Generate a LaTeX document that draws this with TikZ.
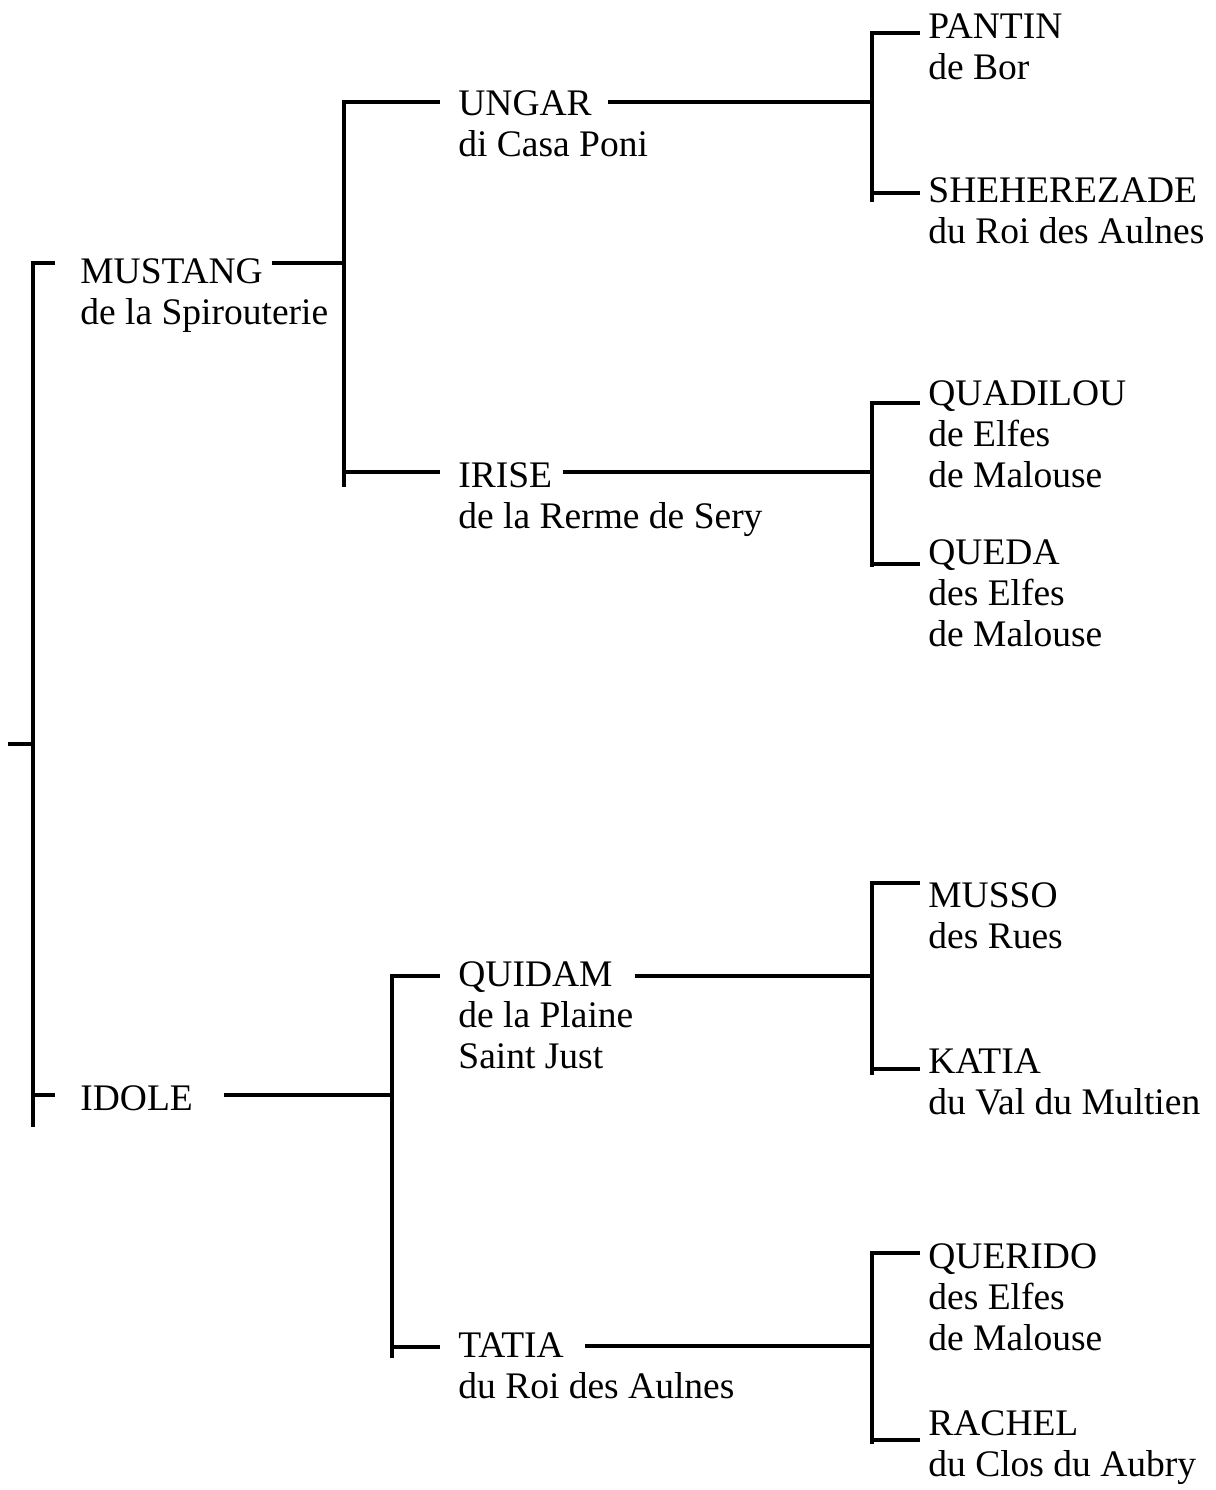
\documentclass[tikz,border=0pt]{standalone}
\usepackage{fontspec}
\setmainfont{Liberation Serif}
\newcommand{\horse}[1]{\vtop{\halign{##\hfil\cr#1\crcr}}} % stacked lines, baseline = first line
\tikzset{
  pedline/.style={line width=1.6pt},
  horsename/.style={anchor=base west,inner sep=0pt,font=\fontsize{18.75}{20.5}\selectfont},
}

\begin{document}
\begin{tikzpicture}[x=0.5pt,y=-0.5pt]
  \fill[white] (0,0) rectangle (1216,1490); % page
  \foreach \n/\x/\t/\m/\b/\e/\w in {a/33/263/744/1095/1127/55, % loop over brackets
      b/344/102/263/472/487/440,c/392/976/1095/1347/1358/440,
      d/872/33/102/193/202/920,e/872/403/472/564/567/920,
      f/872/883/976/1069/1075/920,g/872/1253/1346/1440/1444/920}{
    \coordinate (\n mid) at (\x,\m);
    \draw[pedline] (\w,\t) -- (\x,\t) -- (\x,\e) (\x,\b) -- (\w,\b); % bar and ticks
  }
  \foreach \n/\x/\y/\s in {mustang/80/283/{MUSTANG\cr de la Spirouterie},idole/80/1110/IDOLE,
      ungar/458/115/{UNGAR\cr di Casa Poni},irise/458/487/{IRISE\cr de la Rerme de Sery},
      quidam/458/986/{QUIDAM\cr de la Plaine\cr Saint Just},tatia/458/1357/{TATIA\cr du Roi des Aulnes},
      pantin/928/38/{PANTIN\cr de Bor},sheherezade/928/202/{SHEHEREZADE\cr du Roi des Aulnes},
      quadilou/928/405/{QUADILOU\cr de Elfes\cr de Malouse},queda/928/564/{QUEDA\cr des Elfes\cr de Malouse},
      musso/928/907/{MUSSO\cr des Rues},katia/928/1073/{KATIA\cr du Val du Multien},
      querido/928/1268/{QUERIDO\cr des Elfes\cr de Malouse},rachel/928/1435/{RACHEL\cr du Clos du Aubry}}{
    \node[horsename] (\n) at (\x,\y) {\horse{\s}};
  }
  \foreach \n/\j/\d in {root/a/25,mustang/b/72,idole/c/168,ungar/d/264,
      irise/e/309,quidam/f/237,tatia/g/287}{ % lines into the brackets
    \draw[pedline] (\j mid) -- ++(-\d,0) coordinate (\n end);
  }
\end{tikzpicture}
\end{document}
